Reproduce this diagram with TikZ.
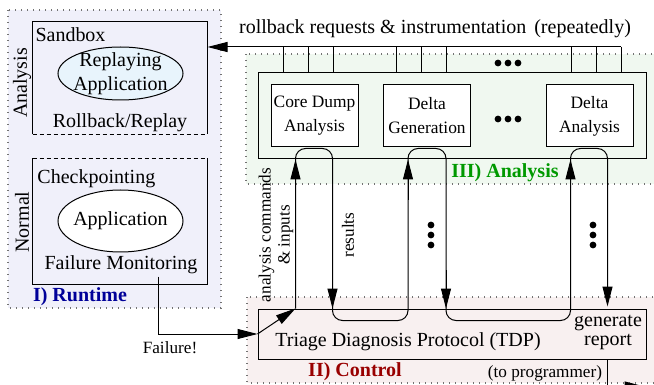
\documentclass[tikz,border=0pt]{standalone}
\usepackage{fontspec}
\setmainfont{Liberation Serif}
\usepackage{tikz}
\usetikzlibrary{positioning,arrows.meta,shapes.geometric,calc}
\usepackage{xcolor}
\definecolor{runfill}{RGB}{240,240,250}
\definecolor{anafill}{RGB}{240,248,240}
\definecolor{ctlfill}{RGB}{248,240,240}
\definecolor{replayfill}{RGB}{232,244,252}

\begin{document}
\begin{tikzpicture}[x=0.5pt, y=-0.5pt, line width=0.5pt,
    every node/.style={font=\normalsize, inner sep=1pt},
    region/.style={draw=black!55, line width=0.6pt, dash pattern=on 0.6pt off 2.4pt},
    open/.style={dash pattern=on 2pt off 1.5pt},
    module/.style={draw, fill=white, align=center, minimum width=43.5pt, minimum height=31pt,
      font=\fontsize{8.7}{12}\selectfont},
    app/.style={draw, ellipse, align=center, inner xsep=-4pt, inner ysep=-2pt, minimum width=62.5pt},
    note/.style={font=\fontsize{8.6}{9.5}\selectfont},
    tag/.style={font=\bfseries},
    arr/.style={-{Triangle[length=10pt,width=5pt]}}]
  \useasboundingbox (0,0) rectangle (654,385);
  % three areas
  \draw[region, fill=runfill] (8,10) rectangle (221,308);
  \draw[region, fill=anafill] (246,54) rectangle (670,184);
  \draw[region, fill=ctlfill] (247,297) rectangle (670,383);

  % runtime: sandbox on top, normal run below
  \node[minimum width=87pt, minimum height=56pt] (sandbox) at (120,78) {};
  \draw (sandbox.south west) -- (sandbox.north west) -- (sandbox.north east) -- (sandbox.south east);
  \draw[open] (sandbox.south west) -- (sandbox.south east);
  \node[anchor=west] (sbname) at (33,35) {Sandbox};
  \node[app, fill=replayfill, minimum height=26.5pt] (replay) at (120.5,73.5) {Replaying\\Application};
  \node (rollback) at (120,123) {Rollback/Replay};
  \node[rotate=90] (anamode) at (22,83) {Analysis};

  \node[minimum width=87pt, minimum height=62.5pt] (normalbox) at (120,221.5) {};
  \draw (normalbox.north west) -- (normalbox.south west) -- (normalbox.south east) -- (normalbox.north east);
  \draw[open] (normalbox.north west) -- (normalbox.north east);
  \node[anchor=west] (ckpt) at (35,179) {Checkpointing};
  \node[app, fill=white, minimum height=31pt] (app) at (120.5,221) {Application};
  \node (monitor) at (121,265) {Failure Monitoring};
  \node[rotate=90] (normmode) at (22,222) {Normal};
  \node[tag, text=blue!60!black] (runtag) at (80,297) {I) Runtime};

  % analysis modules
  \node[draw, fill=anafill, minimum width=194pt, minimum height=43pt] (modules) at (452,116) {};
  \node[module] (coredump) at (314.5,116) {Core Dump\\Analysis};
  \node[module] (deltagen) at (427,116) {Delta\\Generation};
  \node[module] (deltaana) at (589.5,116) {Delta\\Analysis};
  \foreach \y in {63,119}
    \foreach \x in {498,508,518}
      \fill (\x,\y) circle (1.7pt);
  \node[tag, text=green!60!black] (anatag) at (505,173) {III) Analysis};

  % rollback requests back to the sandbox
  \coordinate (feed) at (621,47);
  \draw[arr] (feed) -- (feed -| sandbox.east);
  \foreach \x in {283,308,333,396,421,446,571,596,621}
    \draw (\x,0 |- feed) -- (\x,0 |- modules.north);
  \node (feedtxt) at (435,29) {rollback requests \& instrumentation\hspace{4pt}(repeatedly)};

  % control
  \node[draw, fill=ctlfill, minimum width=194pt, minimum height=25pt] (tdp) at (452,334) {};
  \node (tdptxt) at (408,342) {Triage Diagnosis Protocol (TDP)};
  \node[align=center, font=\fontsize{10}{9.5}\selectfont] (report) at (608,332) {generate\\report};
  \node[tag, text=red!60!black] (ctltag) at (355,372) {II) Control};
  \node[note] (prog) at (545,373) {(to programmer)};

  % commands up, results down
  \coordinate (cdup) at ([xshift=12.5pt, yshift=-0.5pt]coredump.south west);
  \coordinate (cddown) at ([xshift=31pt, yshift=-0.5pt]coredump.south west);
  \coordinate (dgup) at ([xshift=12.5pt, yshift=-0.5pt]deltagen.south west);
  \coordinate (dgdown) at ([xshift=31.5pt, yshift=-0.5pt]deltagen.south west);
  \coordinate (daup) at ([xshift=12.5pt, yshift=-0.5pt]deltaana.south west);
  \coordinate (dadown) at ([xshift=31pt, yshift=-0.5pt]deltaana.south west);
  \coordinate (low) at ([yshift=-6pt]tdp.north);
  \coordinate (repin) at ($(dadown |- tdp.north)+(0,-2)$);
  \draw[arr, rounded corners=5pt] (cdup |- tdp.north) -- (cdup) -- (cddown) -- (cddown |- low)
    -- (dgup |- low) -- (dgup) -- (dgdown) -- (dgdown |- low)
    -- (daup |- low) -- (daup) -- (dadown) -- (repin);
  \foreach \p in {cdup, dgup, daup}
    \draw[arr] (\p |- 0,200) -- (\p |- modules.south);
  \foreach \p in {cddown, dgdown}
    \draw[arr] (\p |- 0,270) -- (\p |- tdp.north);
  \foreach \x in {431,593}
    \foreach \y in {225,235,245}
      \fill (\x,\y) circle (1.7pt);
  \node[note, rotate=90, align=center] (cmdtxt) at (276,235) {analysis commands\\\& inputs};
  \node[note, rotate=90] (restxt) at (348,235) {results};

  % failure report and output
  \draw[arr] (158,0 |- monitor.south) |- (tdp.west);
  \node[note] (failtxt) at (170,348) {Failure!};
  \draw[arr] (tdp.west) -- (cdup |- tdp.north);
  \draw[arr] (dadown |- tdp.south) -- ++(0,27) -- ++(37,0);
\end{tikzpicture}
\end{document}
